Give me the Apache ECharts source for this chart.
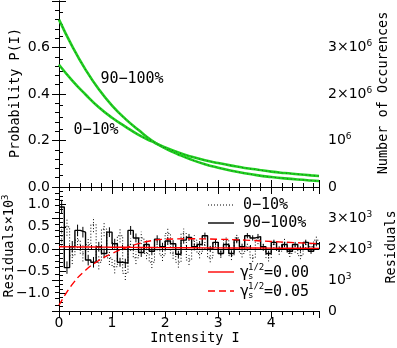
<!DOCTYPE html>
<html><head><meta charset="utf-8">
<script src="https://cdn.jsdelivr.net/npm/echarts@6/dist/echarts.min.js"></script>
<style>html,body{margin:0;padding:0;background:#fff}#c{width:397px;height:348px}</style>
</head><body><div id="c"></div>
<script>
// ---- data ----
const xCurve   = [0,0.25,0.5,0.75,1.0,1.25,1.5,1.75,2.0,2.25,2.5,2.75,3.0,3.25,3.5,3.75,4.0,4.25,4.5,4.75,4.9];
const p0_10    = [0.526,0.458,0.398,0.343,0.298,0.260,0.224,0.196,0.170,0.148,0.130,0.115,0.103,0.092,0.082,0.074,0.066,0.060,0.055,0.050,0.047];
const p90_100  = [0.720,0.605,0.505,0.420,0.350,0.293,0.245,0.200,0.166,0.140,0.117,0.098,0.083,0.070,0.059,0.050,0.043,0.037,0.032,0.028,0.026];

const binLeft  = [0,0.1,0.2,0.3,0.4,0.5,0.6,0.7,0.8,0.9,1.0,1.1,1.2,1.3,1.4,1.5,1.6,1.7,1.8,1.9,2.0,2.1,2.2,2.3,2.4,2.5,2.6,2.7,2.8,2.9,3.0,3.1,3.2,3.3,3.4,3.5,3.6,3.7,3.8,3.9,4.0,4.1,4.2,4.3,4.4,4.5,4.6,4.7,4.8];
const binEnd   = 4.9;
const res90_100 = [0.95,-0.42,0.05,0.42,0.38,-0.25,-0.30,0.05,-0.10,0.38,0.12,-0.30,-0.32,0.42,0.25,-0.08,0.10,-0.05,0.22,0.05,0.18,0.12,-0.12,0.20,0.26,0.05,0.10,0.30,0.00,0.15,-0.10,0.10,-0.10,0.20,0.05,0.30,0.25,0.28,0.05,-0.10,0.15,0.00,0.10,-0.05,0.10,0.00,0.15,-0.05,0.12];
const err90_100 = [0.16,0.14,0.13,0.13,0.12,0.12,0.12,0.11,0.11,0.11,0.11,0.10,0.10,0.10,0.10,0.10,0.09,0.09,0.09,0.09,0.09,0.08,0.08,0.08,0.08,0.08,0.08,0.07,0.07,0.07,0.07,0.07,0.07,0.07,0.07,0.06,0.06,0.06,0.06,0.06,0.06,0.06,0.06,0.06,0.06,0.06,0.06,0.06,0.06];
const res0_10   = [0.30,0.50,-0.15,0.20,-0.10,0.10,0.55,-0.30,0.45,-0.20,-0.40,0.30,-0.55,0.10,-0.20,0.25,-0.10,-0.30,0.10,-0.15,0.35,-0.10,-0.30,0.35,-0.25,0.20,-0.10,0.10,-0.20,0.15,-0.10,0.20,-0.15,0.25,-0.10,0.05,-0.20,0.20,0.05,-0.20,0.10,-0.05,0.15,-0.10,0.00,-0.15,0.10,0.05,0.20];
const err0_10   = [0.22,0.20,0.19,0.18,0.18,0.17,0.17,0.16,0.16,0.16,0.15,0.15,0.15,0.14,0.14,0.14,0.13,0.13,0.13,0.12,0.12,0.12,0.12,0.11,0.11,0.11,0.11,0.10,0.10,0.10,0.10,0.10,0.10,0.09,0.09,0.09,0.09,0.09,0.09,0.08,0.08,0.08,0.08,0.08,0.08,0.08,0.08,0.08,0.08];

const xModel     = [0,0.25,0.5,0.75,1.0,1.25,1.5,1.75,2.0,2.5,3.0,3.5,4.0,4.5,4.9];
const model000   = [0.05,0.047,0.045,0.043,0.04,0.038,0.035,0.033,0.031,0.028,0.025,0.022,0.02,0.017,0.015];
const model005   = [-1.27,-0.80,-0.48,-0.26,-0.10,0.02,0.12,0.19,0.22,0.23,0.22,0.20,0.17,0.14,0.12];

const labelCurveHi = '90−100%';
const labelCurveLo = '0−10%';

// ---- helpers ----
const MONO = "'DejaVu Sans Mono', monospace";
const SANS = "'DejaVu Sans', sans-serif";
const pairs = (xs, ys) => xs.map((x, i) => [x, ys[i]]);
const hist = (ys) => binLeft.map((x, i) => [x, ys[i]]).concat([[binEnd, ys[ys.length - 1]]]);
const binW = binLeft[1] - binLeft[0];
const errData = (ys, es) => binLeft.map((x, i) => [x + binW / 2, ys[i], es[i]]);

const lineBlack = {show: true, lineStyle: {color: '#000', width: 1}};
function xAx(grid, pos, showLabel) {
  return {type: 'value', gridIndex: grid, position: pos, min: 0, max: 4.9, interval: 1,
    axisLine: lineBlack,
    axisTick: {show: true, inside: true, length: 7, lineStyle: {color: '#000'}},
    minorTick: {show: true, splitNumber: 5, length: 4, lineStyle: {color: '#000'}},
    splitLine: {show: false},
    axisLabel: {show: showLabel, margin: 5, color: '#000', fontFamily: SANS, fontSize: 14,
      formatter: v => Number.isInteger(v) ? String(v) : ''}};
}
const richSup = {
  b: {fontFamily: SANS, fontSize: 14, color: '#000', lineHeight: 16},
  s: {fontFamily: SANS, fontSize: 9, color: '#000', verticalAlign: 'top', lineHeight: 16}
};
function errSeries(ys, es, dash) {
  return {type: 'custom', xAxisIndex: 2, yAxisIndex: 2, data: errData(ys, es), silent: true,
    renderItem: (params, api) => {
      const x = api.value(0), v = api.value(1), e = api.value(2);
      const a = api.coord([x, v - e]), b = api.coord([x, v + e]);
      return {type: 'line', shape: {x1: a[0], y1: a[1], x2: b[0], y2: b[1]},
        style: {stroke: '#000', lineWidth: 1, lineDash: dash}};
    }};
}

const option = {
  animation: false,
  backgroundColor: '#fff',
  grid: [
    {left: 59, top: 1, width: 260, height: 186},
    {left: 59, top: 187, width: 260, height: 124},
    {left: 59, top: 187, width: 260, height: 124}
  ],
  xAxis: [
    xAx(0, 'bottom', false), xAx(0, 'top', false),
    xAx(1, 'bottom', true), xAx(1, 'top', false),
    {type: 'value', gridIndex: 2, min: 0, max: 4.9, show: false}
  ],
  yAxis: [
    {type: 'value', gridIndex: 0, position: 'left', min: 0, max: 0.8, interval: 0.2,
      axisLine: lineBlack,
      axisTick: {inside: true, length: 7, lineStyle: {color: '#000'}},
      minorTick: {show: true, splitNumber: 4, length: 4, lineStyle: {color: '#000'}},
      splitLine: {show: false},
      axisLabel: {margin: 9, color: '#000', fontFamily: SANS, fontSize: 14,
        formatter: v => v > 0.7 ? '' : v.toFixed(1)}},
    {type: 'value', gridIndex: 0, position: 'right', min: 0, max: 4e6, interval: 1e6,
      axisLine: lineBlack,
      axisTick: {inside: true, length: 7, lineStyle: {color: '#000'}},
      minorTick: {show: true, splitNumber: 5, length: 4, lineStyle: {color: '#000'}},
      splitLine: {show: false},
      axisLabel: {margin: 9, color: '#000', rich: richSup,
        formatter: v => v === 0 ? '{b|0}' : v >= 4e6 ? '' : v === 1e6 ? '{b|10}{s|6}' : '{b|' + (v / 1e6) + '×10}{s|6}'}},
    {type: 'value', gridIndex: 1, position: 'left', min: -1.4, max: 1.4,
      axisLine: lineBlack,
      axisTick: {inside: true, length: 7, lineStyle: {color: '#000'}, customValues: [-1, -0.5, 0, 0.5, 1]},
      splitLine: {show: false},
      axisLabel: {margin: 9, color: '#000', fontFamily: SANS, fontSize: 14, customValues: [-1, -0.5, 0, 0.5, 1],
        formatter: v => (v < 0 ? '−' : '') + Math.abs(v).toFixed(1)}},
    {type: 'value', gridIndex: 1, position: 'right', min: 0, max: 4000, interval: 1000,
      axisLine: lineBlack,
      axisTick: {inside: true, length: 7, lineStyle: {color: '#000'}},
      minorTick: {show: true, splitNumber: 5, length: 4, lineStyle: {color: '#000'}},
      splitLine: {show: false},
      axisLabel: {margin: 9, color: '#000', rich: richSup,
        formatter: v => v === 0 ? '{b|0}' : v >= 4000 ? '' : v === 1000 ? '{b|10}{s|3}' : '{b|' + (v / 1000) + '×10}{s|3}'}},
    {type: 'value', gridIndex: 2, position: 'left', min: -1.4, max: 1.4, interval: 0.1,
      axisLine: {show: false}, axisLabel: {show: false}, splitLine: {show: false},
      axisTick: {inside: true, length: 4, lineStyle: {color: '#000'}}}
  ],
  series: [
    {type: 'line', xAxisIndex: 0, yAxisIndex: 0, data: pairs(xCurve, p0_10), smooth: true, symbol: 'none',
      lineStyle: {color: '#1fd11f', width: 2.6}},
    {type: 'line', xAxisIndex: 0, yAxisIndex: 0, data: pairs(xCurve, p90_100), smooth: true, symbol: 'none',
      lineStyle: {color: '#1fd11f', width: 2.6}},
    {type: 'line', xAxisIndex: 0, yAxisIndex: 0, data: pairs(xCurve, p0_10), smooth: true, symbol: 'none',
      lineStyle: {color: '#224422', width: 0.8, type: [1, 3]}},
    {type: 'line', xAxisIndex: 0, yAxisIndex: 0, data: pairs(xCurve, p90_100), smooth: true, symbol: 'none',
      lineStyle: {color: '#224422', width: 0.8, type: [1, 3]}},
    errSeries(res0_10, err0_10, [1, 2]),
    errSeries(res90_100, err90_100, null),
    {type: 'line', xAxisIndex: 2, yAxisIndex: 2, data: hist(res0_10), step: 'end', symbol: 'none',
      lineStyle: {color: '#000', width: 1, type: [1, 2]}},
    {type: 'line', xAxisIndex: 2, yAxisIndex: 2, data: hist(res90_100), step: 'end', symbol: 'none',
      lineStyle: {color: '#000', width: 1.4}},
    {type: 'line', xAxisIndex: 2, yAxisIndex: 2, data: pairs(xModel, model000), smooth: true, symbol: 'none',
      lineStyle: {color: '#ff0000', width: 1.4}},
    {type: 'line', xAxisIndex: 2, yAxisIndex: 2, data: pairs(xModel, model005), smooth: true, symbol: 'none',
      lineStyle: {color: '#ff0000', width: 1.4, type: [7, 4]}}
  ],
  graphic: [
    {type: 'text', x: 15, y: 93, rotation: Math.PI / 2,
      style: {text: 'Probability P(I)', font: '13.5px ' + MONO, fill: '#000', align: 'center', verticalAlign: 'middle'}},
    {type: 'text', x: 383, y: 93, rotation: Math.PI / 2,
      style: {text: 'Number of Occurences', font: '13.5px ' + MONO, fill: '#000', align: 'center', verticalAlign: 'middle'}},
    {type: 'text', x: 9, y: 246, rotation: Math.PI / 2,
      style: {text: '{a|Residuals×10}{s|3}', align: 'center', verticalAlign: 'middle',
        rich: {a: {fontFamily: MONO, fontSize: 13.5, fill: '#000', lineHeight: 16},
               s: {fontFamily: MONO, fontSize: 9, fill: '#000', verticalAlign: 'top', lineHeight: 16}}}},
    {type: 'text', x: 391, y: 247, rotation: Math.PI / 2,
      style: {text: 'Residuals', font: '13.5px ' + MONO, fill: '#000', align: 'center', verticalAlign: 'middle'}},
    {type: 'text', x: 195, y: 338,
      style: {text: 'Intensity I', font: '13.5px ' + MONO, fill: '#000', align: 'center', verticalAlign: 'middle'}},
    {type: 'text', x: 132, y: 79,
      style: {text: labelCurveHi, font: '15px ' + MONO, fill: '#000', align: 'center', verticalAlign: 'middle'}},
    {type: 'text', x: 96, y: 130,
      style: {text: labelCurveLo, font: '15px ' + MONO, fill: '#000', align: 'center', verticalAlign: 'middle'}},
    // legend
    {type: 'line', shape: {x1: 208, y1: 205, x2: 234, y2: 205}, style: {stroke: '#000', lineWidth: 1, lineDash: [1, 2]}},
    {type: 'text', x: 243, y: 205, style: {text: labelCurveLo, font: '15px ' + MONO, fill: '#000', align: 'left', verticalAlign: 'middle'}},
    {type: 'line', shape: {x1: 208, y1: 223, x2: 234, y2: 223}, style: {stroke: '#000', lineWidth: 1.4}},
    {type: 'text', x: 243, y: 223, style: {text: labelCurveHi, font: '15px ' + MONO, fill: '#000', align: 'left', verticalAlign: 'middle'}},
    {type: 'line', shape: {x1: 208, y1: 272, x2: 234, y2: 272}, style: {stroke: '#ff0000', lineWidth: 1.4}},
    {type: 'text', x: 240, y: 273, style: {text: 'γ', font: '15px ' + MONO, fill: '#000', align: 'left', verticalAlign: 'middle'}},
    {type: 'text', x: 248, y: 268, style: {text: '1/2', font: '9px ' + MONO, fill: '#000', align: 'left', verticalAlign: 'middle'}},
    {type: 'text', x: 248, y: 277, style: {text: 's', font: '9px ' + MONO, fill: '#000', align: 'left', verticalAlign: 'middle'}},
    {type: 'text', x: 264, y: 273, style: {text: '=0.00', font: '15px ' + MONO, fill: '#000', align: 'left', verticalAlign: 'middle'}},
    {type: 'line', shape: {x1: 208, y1: 291, x2: 234, y2: 291}, style: {stroke: '#ff0000', lineWidth: 1.4, lineDash: [7, 4]}},
    {type: 'text', x: 240, y: 292, style: {text: 'γ', font: '15px ' + MONO, fill: '#000', align: 'left', verticalAlign: 'middle'}},
    {type: 'text', x: 248, y: 287, style: {text: '1/2', font: '9px ' + MONO, fill: '#000', align: 'left', verticalAlign: 'middle'}},
    {type: 'text', x: 248, y: 296, style: {text: 's', font: '9px ' + MONO, fill: '#000', align: 'left', verticalAlign: 'middle'}},
    {type: 'text', x: 264, y: 292, style: {text: '=0.05', font: '15px ' + MONO, fill: '#000', align: 'left', verticalAlign: 'middle'}}
  ]
};
const chart = echarts.init(document.getElementById('c'), null, {renderer: 'canvas'});
chart.setOption(option);
</script></body></html>
